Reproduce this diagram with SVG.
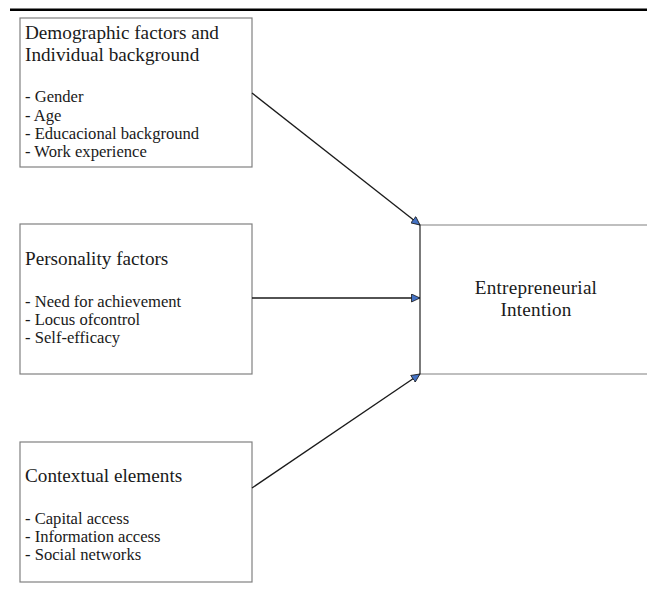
<svg xmlns="http://www.w3.org/2000/svg" width="647" height="591" viewBox="0 0 647 591">
<defs>
<marker id="ah" markerWidth="10" markerHeight="9" refX="9" refY="4.5" orient="auto" markerUnits="userSpaceOnUse">
<path d="M0.5,0.5 L9,4.5 L0.5,8.5 Z" fill="#4472C4" stroke="#1a1a1a" stroke-width="0.8"/>
</marker>
</defs>
<style>
.box{fill:#fff;stroke:#808080;stroke-width:1.2}
.t{font-family:"Liberation Serif","DejaVu Serif",serif;fill:#1a1a1a}
.h{font-size:19.2px}
.i{font-size:16.6px}
.c{stroke:#1a1a1a;stroke-width:1.3;fill:none}
</style>
<rect width="647" height="591" fill="#fff"/>
<line x1="10" y1="9.7" x2="647" y2="9.7" stroke="#000" stroke-width="2.6"/>
<g id="demographic">
<rect class="box" x="20" y="18" width="232" height="149"/>
<text class="t h" x="25" y="39">Demographic factors and</text>
<text class="t h" x="25" y="61">Individual background</text>
<text class="t i" x="25" y="102">- Gender</text>
<text class="t i" x="25" y="121">- Age</text>
<text class="t i" x="25" y="139">- Educacional background</text>
<text class="t i" x="25" y="157">- Work experience</text>
</g>
<g id="personality">
<rect class="box" x="20" y="224" width="232" height="150"/>
<text class="t h" x="25" y="265">Personality factors</text>
<text class="t i" x="25" y="307">- Need for achievement</text>
<text class="t i" x="25" y="325">- Locus ofcontrol</text>
<text class="t i" x="25" y="343">- Self-efficacy</text>
</g>
<g id="contextual">
<rect class="box" x="20" y="442" width="232" height="140"/>
<text class="t h" x="25" y="482">Contextual elements</text>
<text class="t i" x="25" y="524">- Capital access</text>
<text class="t i" x="25" y="542">- Information access</text>
<text class="t i" x="25" y="560">- Social networks</text>
</g>
<g id="intention">
<path d="M648,225 L420,225 M420,374 L648,374" stroke="#808080" stroke-width="1.2" fill="none"/>
<line x1="420" y1="225" x2="420" y2="374" stroke="#333" stroke-width="1.3"/>
<text class="t h" x="536" y="294" text-anchor="middle" letter-spacing="0.2">Entrepreneurial</text>
<text class="t h" x="536" y="316" text-anchor="middle" letter-spacing="0.2">Intention</text>
</g>
<g id="connectors">
<line class="c" x1="252" y1="93" x2="420" y2="225" marker-end="url(#ah)"/>
<line class="c" x1="252" y1="298" x2="420" y2="298" marker-end="url(#ah)"/>
<line class="c" x1="252" y1="488" x2="420" y2="374" marker-end="url(#ah)"/>
</g>
</svg>
